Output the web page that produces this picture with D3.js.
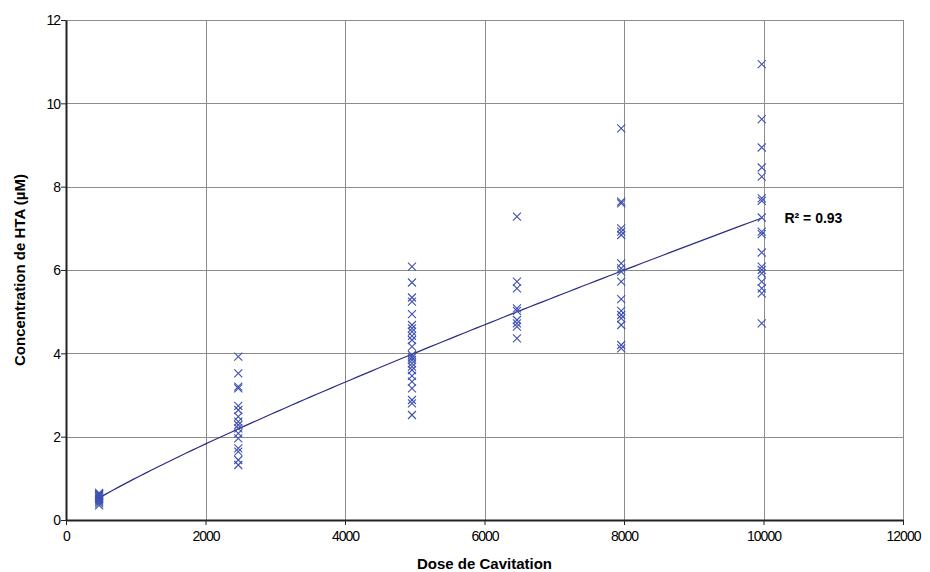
<!DOCTYPE html>
<html>
<head>
<meta charset="utf-8">
<script src="https://cdn.jsdelivr.net/npm/d3@7"></script>
<style>
body { margin: 0; background: #fff; }
svg { font-family: "Liberation Sans", Arial, sans-serif; }
</style>
</head>
<body>
<svg id="viz" width="930" height="572"></svg>
<script>
// doses (x) and HTA concentrations (y) per group
var doses = [475, 2470, 4960, 6465, 7960, 9975];
var group1 = [0.65, 0.62, 0.6, 0.58, 0.55, 0.52, 0.5, 0.47, 0.44, 0.4, 0.35];
var group2 = [3.92, 3.52, 3.2, 3.16, 2.74, 2.64, 2.48, 2.36, 2.28, 2.2, 2.08, 1.96, 1.72, 1.64, 1.44, 1.32];
var group3 = [6.08, 5.7, 5.34, 5.24, 4.94, 4.68, 4.6, 4.52, 4.42, 4.32, 4.16, 3.96, 3.9, 3.84, 3.76, 3.68, 3.6, 3.46, 3.32, 3.16, 2.88, 2.8, 2.52];
var group4 = [7.28, 5.72, 5.56, 5.08, 5.02, 4.8, 4.72, 4.64, 4.36];
var group5 = [9.4, 7.64, 7.6, 7.0, 6.92, 6.84, 6.16, 6.04, 5.96, 5.72, 5.3, 5.02, 4.92, 4.84, 4.68, 4.2, 4.12];
var group6 = [10.94, 9.62, 8.94, 8.46, 8.24, 7.72, 7.66, 7.26, 6.92, 6.86, 6.42, 6.08, 6.0, 5.92, 5.72, 5.56, 5.44, 4.72];
var groups = [group1, group2, group3, group4, group5, group6];

var xTicks = [0, 2000, 4000, 6000, 8000, 10000, 12000];
var yTicks = [0, 2, 4, 6, 8, 10, 12];
var r2Label = "R\u00b2 = 0.93";

function drawChart() {
	var width = 930;
	var height = 572;
	var margin = { left: 66, right: 27, top: 20, bottom: 52 };
	var innerWidth = width - margin.left - margin.right;
	var innerHeight = height - margin.top - margin.bottom;

	var points = [];
	groups.forEach(function (g, i) {
		g.forEach(function (v) { points.push({ x: doses[i], y: v }); });
	});

	var x = d3.scaleLinear().domain([0, 12000]).range([0, innerWidth]);
	var y = d3.scaleLinear().domain([0, 12]).range([innerHeight, 0]);

	var svg = d3.select("#viz");
	var g = svg.append("g")
		.attr("transform", "translate(" + margin.left + "," + margin.top + ")");

	// grid
	g.append("g").selectAll("line").data(yTicks.slice(1)).enter().append("line")
		.attr("x1", 0).attr("x2", innerWidth)
		.attr("y1", function (d) { return Math.round(y(d)) + 0.5; })
		.attr("y2", function (d) { return Math.round(y(d)) + 0.5; })
		.attr("stroke", "#8c8c8c").attr("stroke-width", 1);
	g.append("g").selectAll("line").data(xTicks.slice(1)).enter().append("line")
		.attr("y1", 0).attr("y2", innerHeight)
		.attr("x1", function (d) { return Math.round(x(d)) + 0.5; })
		.attr("x2", function (d) { return Math.round(x(d)) + 0.5; })
		.attr("stroke", "#8c8c8c").attr("stroke-width", 1);

	var xAxis = d3.axisBottom(x).tickValues(xTicks).tickSize(5).tickSizeOuter(0).tickFormat(d3.format("d"));
	var yAxis = d3.axisLeft(y).tickValues(yTicks).tickSize(5).tickSizeOuter(0).tickFormat(d3.format("d"));

	var gx = g.append("g")
		.attr("transform", "translate(0," + innerHeight + ")")
		.call(xAxis);
	var gy = g.append("g").call(yAxis);

	[gx, gy].forEach(function (a) {
		a.select(".domain").attr("stroke", "#222").attr("stroke-width", 2);
		a.selectAll(".tick line").attr("stroke", "#222").attr("stroke-width", 1);
		a.selectAll(".tick text")
			.attr("fill", "#000")
			.style("font-size", "14px")
			.style("letter-spacing", "-1px");
	});
	gx.selectAll(".tick text").attr("dy", "0.95em");
	gy.selectAll(".tick text").attr("x", -6).attr("dy", "0.35em");

	// power trendline fitted in log space (as a spreadsheet power trendline)
	var n = points.length;
	var sx = 0, sy = 0, sxx = 0, sxy = 0;
	points.forEach(function (p) {
		var lx = Math.log(p.x), ly = Math.log(p.y);
		sx += lx; sy += ly; sxx += lx * lx; sxy += lx * ly;
	});
	var b = (n * sxy - sx * sy) / (n * sxx - sx * sx);
	var a = Math.exp((sy - b * sx) / n);
	var xs = d3.range(0, 101).map(function (i) {
		return doses[0] + (doses[doses.length - 1] - doses[0]) * i / 100;
	});
	var line = d3.line()
		.x(function (d) { return x(d); })
		.y(function (d) { return y(a * Math.pow(d, b)); });
	g.append("path")
		.datum(xs)
		.attr("d", line)
		.attr("fill", "none")
		.attr("stroke", "#2b2b86")
		.attr("stroke-width", 1.2);

	// x markers
	var s = 4;
	g.append("g").selectAll("path").data(points).enter().append("path")
		.attr("d", function (p) {
			var cx = x(p.x), cy = y(p.y);
			return "M" + (cx - s) + "," + (cy - s) + "L" + (cx + s) + "," + (cy + s) +
				"M" + (cx - s) + "," + (cy + s) + "L" + (cx + s) + "," + (cy - s);
		})
		.attr("stroke", "#3f51b0")
		.attr("stroke-width", 1.1)
		.attr("fill", "none");

	g.append("text")
		.attr("x", x(10300))
		.attr("y", y(7.25))
		.attr("dy", "0.35em")
		.style("font-size", "14px")
		.style("font-weight", "bold")
		.text(r2Label);

	svg.append("text")
		.attr("x", margin.left + innerWidth / 2)
		.attr("y", 569)
		.attr("text-anchor", "middle")
		.style("font-size", "15px")
		.style("font-weight", "bold")
		.text("Dose de Cavitation");

	svg.append("text")
		.attr("transform", "translate(25," + (margin.top + innerHeight / 2) + ") rotate(-90)")
		.attr("text-anchor", "middle")
		.style("font-size", "15px")
		.style("font-weight", "bold")
		.text("Concentration de HTA (\u00b5M)");
}

drawChart();
</script>
</body>
</html>
